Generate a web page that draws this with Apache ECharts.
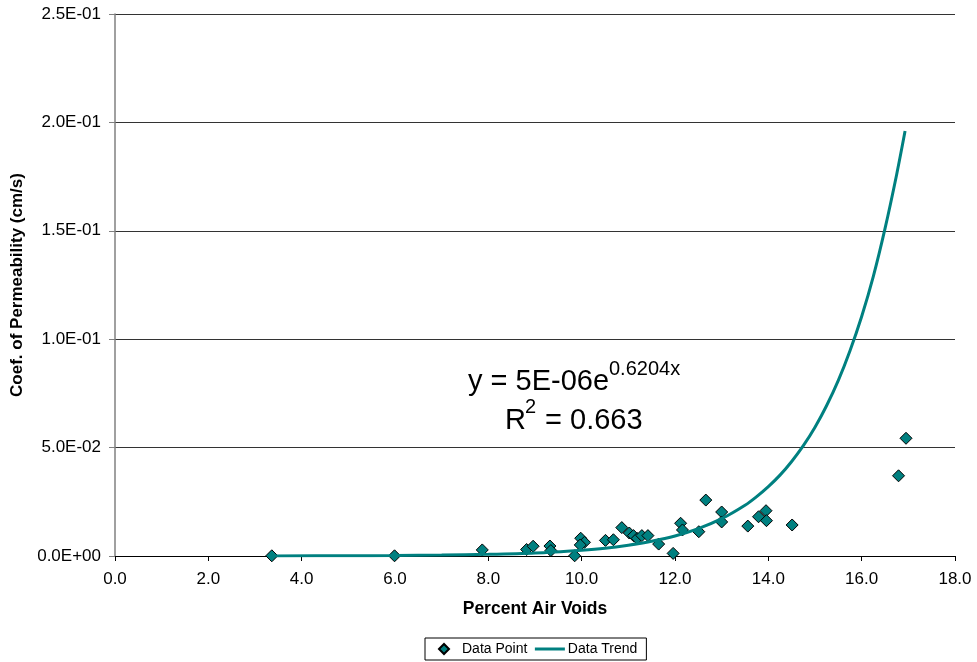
<!DOCTYPE html>
<html>
<head>
<meta charset="utf-8">
<script src="https://cdn.jsdelivr.net/npm/echarts@6/dist/echarts.min.js"></script>
<style>
html,body{margin:0;padding:0;background:#fff;}
#chart{width:977px;height:662px;}
</style>
</head>
<body>
<div id="chart"></div>
<script>
// Data points (percent air voids, permeability cm/s)
var pointX = [3.36, 5.99, 7.87, 8.82, 8.96, 9.32, 9.34, 9.85, 9.98, 10.06, 9.97, 10.51, 10.68, 10.86, 11.02, 11.11, 11.19, 11.29, 11.42, 11.65, 11.96, 12.12, 12.16, 12.51, 12.66, 13.00, 13.00, 13.56, 13.79, 13.95, 13.96, 14.51, 16.79, 16.95];
var pointY = [0.0001, 0.0001, 0.0028, 0.0030, 0.0045, 0.0046, 0.0025, 0.0001, 0.0082, 0.0063, 0.0051, 0.0072, 0.0075, 0.0131, 0.0106, 0.0094, 0.0081, 0.0094, 0.0094, 0.0055, 0.0012, 0.0151, 0.0120, 0.0112, 0.0258, 0.0203, 0.0157, 0.0138, 0.0181, 0.0209, 0.0163, 0.0143, 0.0370, 0.0543];

// Trend curve
var trendX = [3.36, 5, 6, 7, 8, 9, 10, 10.5, 11, 11.5, 12, 12.5, 13, 13.5, 13.75, 14, 14.25, 14.5, 14.75, 15, 15.25, 15.5, 15.75, 16, 16.25, 16.5, 16.75, 16.93];
var trendY = [0.00004, 0.00012, 0.00022, 0.00042, 0.00077, 0.0014, 0.0027, 0.0036, 0.0050, 0.0068, 0.0092, 0.0126, 0.0172, 0.0234, 0.0274, 0.0320, 0.0373, 0.0436, 0.0509, 0.0594, 0.0694, 0.0810, 0.0947, 0.1105, 0.1290, 0.1510, 0.1760, 0.1960];

var xTickLabels = ['0.0', '2.0', '4.0', '6.0', '8.0', '10.0', '12.0', '14.0', '16.0', '18.0'];
var yTickLabels = ['0.0E+00', '5.0E-02', '1.0E-01', '1.5E-01', '2.0E-01', '2.5E-01'];

var seriesNames = ['Data Point', 'Data Trend'];
var xTitle = 'Percent Air Voids';
var yTitle = 'Coef. of Permeability (cm/s)';
var eqMain = 'y = 5E-06e';
var eqExp = '0.6204x';
var r2Base = 'R';
var r2Exp = '2';
var r2Rest = ' = 0.663';

var FONT = '"Liberation Sans", Arial, sans-serif';
var TEAL = '#008080';
var CLEAR = 'rgba(0,0,0,0)';

var chart = echarts.init(document.getElementById('chart'), null, {renderer: 'canvas'});

var scatterData = pointX.map(function (x, i) { return [x, pointY[i]]; });
var trendData = trendX.map(function (x, i) { return [x, trendY[i]]; });

chart.setOption({
  backgroundColor: '#fff',
  animation: false,
  textStyle: {fontFamily: FONT},
  grid: {left: 115, right: 22, top: 14, bottom: 106, containLabel: false},
  xAxis: {
    type: 'value', min: 0, max: 18, interval: 2,
    name: xTitle, nameLocation: 'middle', nameGap: 44,
    nameTextStyle: {fontFamily: FONT, fontSize: 17.5, fontWeight: 'bold', color: '#000'},
    axisLine: {show: true, onZero: false, lineStyle: {color: '#000', width: 1}},
    axisTick: {show: true, inside: false, length: 5, lineStyle: {color: '#000'}},
    axisLabel: {fontFamily: FONT, fontSize: 17, color: '#000', margin: 15,
      formatter: function (v, i) { return xTickLabels[i]; }},
    splitLine: {show: false}
  },
  yAxis: {
    type: 'value', min: 0, max: 0.25, interval: 0.05,
    name: yTitle, nameLocation: 'middle', nameGap: 89, nameRotate: 90,
    nameTextStyle: {fontFamily: FONT, fontSize: 17, fontWeight: 'bold', color: '#000'},
    axisLine: {show: true, lineStyle: {color: '#808080', width: 1.5}},
    axisTick: {show: true, inside: false, length: 6, lineStyle: {color: '#808080'}},
    axisLabel: {fontFamily: FONT, fontSize: 17, color: '#000', margin: 14,
      formatter: function (v, i) { return yTickLabels[i]; }},
    splitLine: {show: true, lineStyle: {color: '#333', width: 1}}
  },
  legend: {
    left: 425, top: 638,
    orient: 'horizontal',
    data: [
      {name: seriesNames[0], icon: 'path://M0,0M10,5L15,0L20,5L15,10ZM30,10'},
      {name: seriesNames[1],
        itemStyle: {color: CLEAR, borderColor: CLEAR, borderWidth: 0, opacity: 0},
        lineStyle: {color: TEAL, width: 3}}
    ],
    itemWidth: 30, itemHeight: 10, itemGap: 6,
    padding: [4, 9, 4, 3],
    borderColor: '#000', borderWidth: 1, borderRadius: 0,
    textStyle: {fontFamily: FONT, fontSize: 14, color: '#000', padding: [0, 0, 0, -2]}
  },
  series: [
    {
      name: seriesNames[0], type: 'scatter',
      symbol: 'diamond', symbolSize: 12,
      itemStyle: {color: TEAL, borderColor: '#000', borderWidth: 1, opacity: 1},
      data: scatterData, z: 2
    },
    {
      name: seriesNames[1], type: 'line',
      symbol: 'none', smooth: 0.3,
      lineStyle: {color: TEAL, width: 3},
      itemStyle: {color: TEAL},
      data: trendData, z: 3
    }
  ],
  graphic: [
    {type: 'text', left: 468, top: 367, z: 10,
      style: {text: eqMain, font: '29px ' + FONT, fill: '#000'}},
    {type: 'text', left: 609, top: 359, z: 10,
      style: {text: eqExp, font: '20px ' + FONT, fill: '#000'}},
    {type: 'text', left: 505, top: 406, z: 10,
      style: {text: r2Base, font: '29px ' + FONT, fill: '#000'}},
    {type: 'text', left: 525, top: 397, z: 10,
      style: {text: r2Exp, font: '20px ' + FONT, fill: '#000'}},
    {type: 'text', left: 537, top: 406, z: 10,
      style: {text: r2Rest, font: '29px ' + FONT, fill: '#000'}}
  ]
});
</script>
</body>
</html>
